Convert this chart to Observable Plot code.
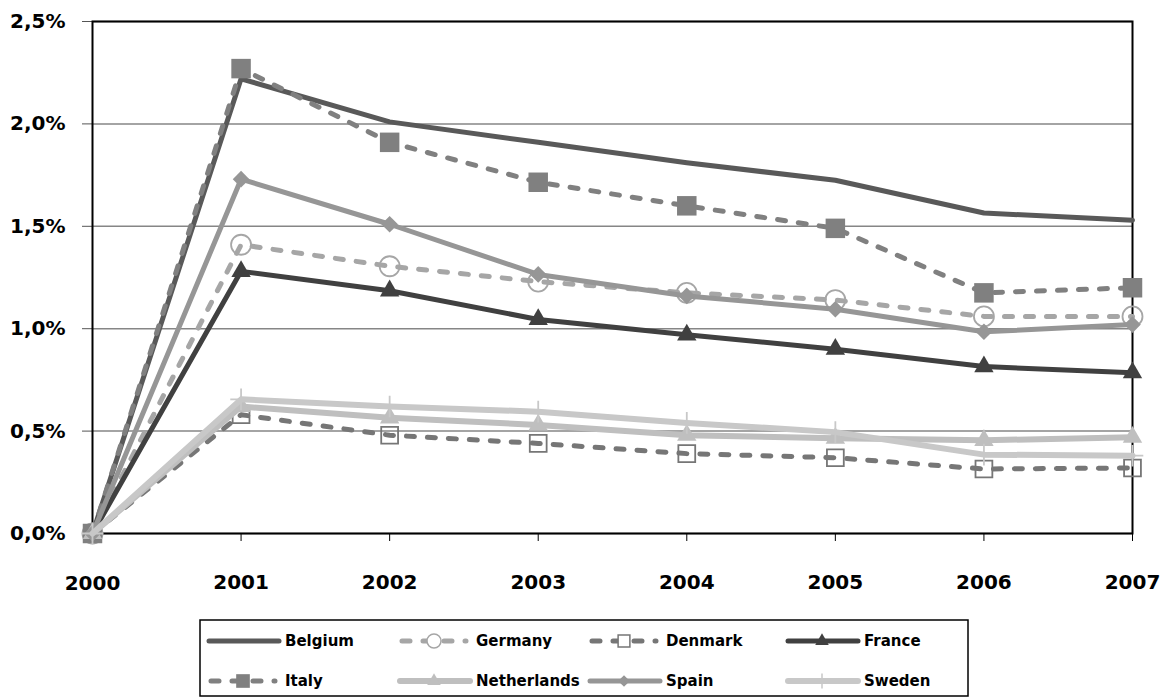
<!DOCTYPE html>
<html>
<head>
<meta charset="utf-8">
<script src="https://cdn.jsdelivr.net/npm/d3@7"></script>
<script src="https://cdn.jsdelivr.net/npm/@observablehq/plot@0.6"></script>
<style>
  html, body { margin: 0; padding: 0; background: #fff; }
  #chart svg { display: block; }
  #legend { display: block; }
</style>
</head>
<body>
<div id="chart"></div>
<svg id="legend" width="1168" height="82"></svg>
<script>
// ---- data (percent) ----
const years = [2000, 2001, 2002, 2003, 2004, 2005, 2006, 2007];
const countries = ["Belgium", "Germany", "Denmark", "France", "Italy", "Netherlands", "Spain", "Sweden"];
const belgium     = [0, 2.22, 2.01, 1.91, 1.81, 1.725, 1.565, 1.53];
const germany     = [0, 1.41, 1.305, 1.23, 1.175, 1.14, 1.06, 1.06];
const denmark     = [0, 0.58, 0.48, 0.44, 0.39, 0.37, 0.315, 0.32];
const france      = [0, 1.28, 1.185, 1.045, 0.97, 0.90, 0.815, 0.785];
const italy       = [0, 2.27, 1.91, 1.715, 1.60, 1.49, 1.175, 1.20];
const netherlands = [0, 0.62, 0.565, 0.53, 0.48, 0.465, 0.455, 0.47];
const spain       = [0, 1.73, 1.51, 1.265, 1.16, 1.095, 0.985, 1.02];
const sweden      = [0, 0.655, 0.62, 0.595, 0.54, 0.495, 0.385, 0.38];
const yTicks = [0, 0.5, 1.0, 1.5, 2.0, 2.5];

const valuesBy = {Belgium: belgium, Germany: germany, Denmark: denmark, France: france,
  Italy: italy, Netherlands: netherlands, Spain: spain, Sweden: sweden};

// ---- styles ----
const styles = {
  Belgium:     {color: "#595959", width: 5, dash: null, symbol: null},
  Germany:     {color: "#a6a6a6", width: 5, dash: "8,13", symbol: "circle", r: 10, fill: "none", mstroke: "#a6a6a6"},
  Denmark:     {color: "#767676", width: 5, dash: "8,13", symbol: "square", r: 9.5, fill: "none", mstroke: "#767676"},
  France:      {color: "#404040", width: 5, dash: null, symbol: "triangle", r: 7.2, fill: "#404040", mstroke: "none"},
  Italy:       {color: "#808080", width: 5, dash: "8,13", symbol: "square", r: 11, fill: "#808080", mstroke: "none"},
  Netherlands: {color: "#bfbfbf", width: 6, dash: null, symbol: "triangle", r: 7.2, fill: "#bfbfbf", mstroke: "none"},
  Spain:       {color: "#969696", width: 5, dash: null, symbol: "diamond2", r: 7.5, fill: "#969696", mstroke: "none"},
  Sweden:      {color: "#c8c8c8", width: 6, dash: null, symbol: "plus", r: 7, fill: "none", mstroke: "#c8c8c8"}
};

const table = countries.flatMap(c => years.map((yr, i) => ({country: c, year: yr, value: valuesBy[c][i]})));

const fmt = d => d.toFixed(1).replace(".", ",") + "%";

const marks = [
  Plot.gridY(yTicks, {stroke: "#868686", strokeOpacity: 1, strokeWidth: 1.5}),
  Plot.axisY(yTicks, {tickSize: 10, tickPadding: 17, tickFormat: fmt, fontSize: 20, fontWeight: "bold", fill: "#000", stroke: "#555", label: null}),
  Plot.axisX(years.slice(1), {tickSize: 8, tickPadding: 33, tickFormat: "d", fontSize: 20, fontWeight: "bold", fill: "#000", stroke: "#000", label: null}),
  Plot.text(years.slice(0,1), {x: d => d, y: 0, text: d => String(d), dy: 50, fontSize: 20, fontWeight: "bold", fill: "#000"}),
  Plot.frame({stroke: "#000", strokeWidth: 2})
];

for (const c of countries) {
  const s = styles[c];
  const rows = table.filter(d => d.country === c);
  marks.push(Plot.line(rows, {x: "year", y: "value", stroke: s.color, strokeWidth: s.width,
    strokeDasharray: s.dash || undefined, strokeLinecap: "round", strokeLinejoin: "round"}));
  if (s.symbol) {
    marks.push(Plot.dot(rows, {x: "year", y: "value", symbol: () => s.symbol, r: s.r,
      fill: s.fill, stroke: s.mstroke, strokeWidth: 1.8}));
  }
}

const chart = Plot.plot({
  width: 1168,
  height: 615,
  marginLeft: 92,
  marginRight: 36,
  marginTop: 21,
  marginBottom: 82,
  style: {fontFamily: "'DejaVu Sans', sans-serif", background: "#fff", color: "#000"},
  x: {type: "linear", domain: [2000, 2007]},
  y: {domain: [0, 2.5]},
  marks
});
document.getElementById("chart").appendChild(chart);

// ---- legend ----
const lg = d3.select("#legend").style("font-family", "'DejaVu Sans', sans-serif");
lg.append("rect").attr("x", 200).attr("y", 5).attr("width", 768).attr("height", 76)
  .attr("fill", "#fff").attr("stroke", "#000").attr("stroke-width", 1.5);
const colX = [207, 398, 588, 786];
const rowY = [26, 66];
const symMap = {circle: d3.symbolCircle, square: d3.symbolSquare, triangle: d3.symbolTriangle,
  diamond2: d3.symbolDiamond2, plus: d3.symbolPlus};
countries.forEach((c, i) => {
  const s = styles[c];
  const x0 = colX[i % 4], y0 = rowY[Math.floor(i / 4)];
  const g = lg.append("g");
  const dashed = !!s.dash;
  g.append("line").attr("x1", x0 + (dashed ? 4 : 2)).attr("x2", x0 + (dashed ? 68 : 72))
    .attr("y1", y0).attr("y2", y0)
    .attr("stroke", s.color).attr("stroke-width", s.width)
    .attr("stroke-linecap", "round")
    .attr("stroke-dasharray", dashed ? "8,13" : null);
  if (s.symbol) {
    const rr = s.r * 0.7;
    g.append("path").attr("transform", `translate(${x0 + 36},${y0})`)
      .attr("d", d3.symbol(symMap[s.symbol], Math.PI * rr * rr)())
      .attr("fill", s.fill === "none" ? "#fff" : s.fill)
      .attr("stroke", s.mstroke).attr("stroke-width", 1.5);
  }
  g.append("text").attr("x", x0 + 78).attr("y", y0).attr("dy", "0.35em")
    .attr("font-size", 15).attr("font-weight", "bold").attr("fill", "#000").text(c);
});
</script>
</body>
</html>
